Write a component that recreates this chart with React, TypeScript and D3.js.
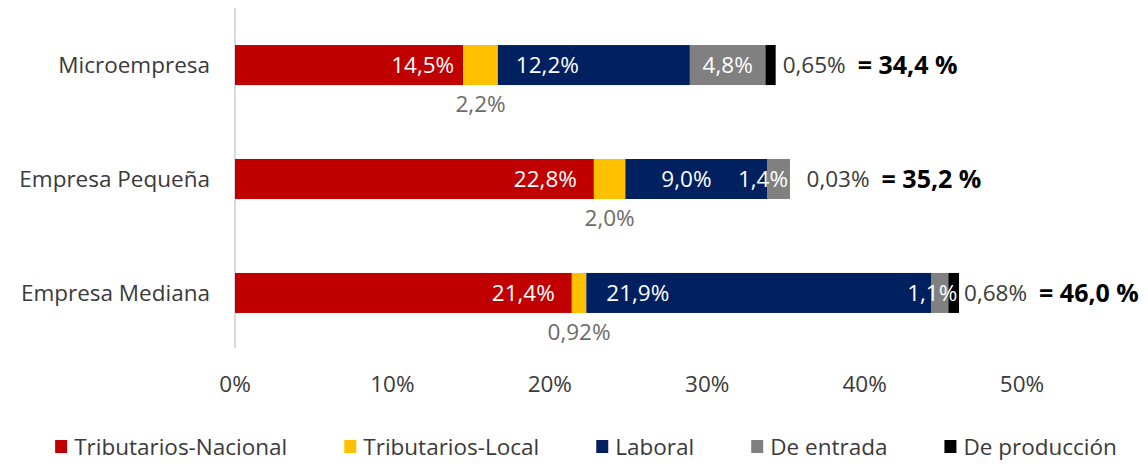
import React, { useRef, useEffect } from "react";
import * as d3 from "d3";

const categories = ["Microempresa", "Empresa Pequeña", "Empresa Mediana"];
const seriesNames = ["Tributarios-Nacional", "Tributarios-Local", "Laboral", "De entrada", "De producción"];
const seriesColors = ["#C00000", "#FFC000", "#002060", "#808080", "#000000"];

const tribNacional = [14.5, 22.8, 21.4];
const tribLocal = [2.2, 2.0, 0.92];
const laboral = [12.2, 9.0, 21.9];
const deEntrada = [4.8, 1.4, 1.1];
const deProduccion = [0.65, 0.03, 0.68];
const totals = [34.4, 35.2, 46.0];

const xTicks = [0, 10, 20, 30, 40, 50];

const fmt = (v: number) => (v < 1 ? v.toFixed(2) : v.toFixed(1)).replace(".", ",") + "%";

const W = 1148;
const H = 465;
const FONT = "'Open Sans', 'Noto Sans', sans-serif";
const FS = "22.5px";
const TXT = "#3a3a3a";

const App = () => {
  const ref = useRef<SVGSVGElement>(null);

  useEffect(() => {
    const svg = d3.select(ref.current);
    svg.selectAll("*").remove();

    const series = [tribNacional, tribLocal, laboral, deEntrada, deProduccion];

    const x = d3.scaleLinear().domain([0, 50]).range([235, 1022]);
    const y = d3
      .scaleBand<string>()
      .domain(categories)
      .range([8, 350])
      .paddingInner(0.649)
      .paddingOuter(0.325);

    // tweaks for label placement, as in the original
    const redPad = [9, 17, 17];
    const bluePad = [18, 36, 20];
    const blackPad = [7, 17, 5];

    // axis line
    svg
      .append("line")
      .attr("x1", x(0))
      .attr("x2", x(0))
      .attr("y1", 8)
      .attr("y2", 348)
      .attr("stroke", "#d9d9d9")
      .attr("stroke-width", 2);

    // category labels
    svg
      .append("g")
      .selectAll("text")
      .data(categories)
      .join("text")
      .attr("x", 210)
      .attr("y", (d) => y(d)! + y.bandwidth() / 2)
      .attr("dy", "0.35em")
      .attr("text-anchor", "end")
      .style("font-family", FONT)
      .style("font-size", FS)
      .style("fill", TXT)
      .text((d) => d);

    // bars
    categories.forEach((cat, i) => {
      let acc = 0;
      const by = y(cat)!;
      const bh = y.bandwidth();
      const cy = by + bh / 2;
      const segs = series.map((s, k) => {
        const start = acc;
        acc += s[i];
        return { k, start, end: acc, v: s[i] };
      });

      svg
        .append("g")
        .selectAll("rect")
        .data(segs)
        .join("rect")
        .attr("x", (d) => x(d.start))
        .attr("y", by)
        .attr("width", (d) => x(d.end) - x(d.start))
        .attr("height", bh)
        .attr("fill", (d) => seriesColors[d.k]);

      const lab = (tx: number, ty: number, anchor: string, color: string, txt: string, bold = false) =>
        svg
          .append("text")
          .attr("x", tx)
          .attr("y", ty)
          .attr("dy", "0.35em")
          .attr("text-anchor", anchor)
          .style("font-family", FONT)
          .style("font-size", bold ? "25px" : FS)
          .style("font-weight", bold ? 700 : 400)
          .style("fill", color)
          .text(txt);

      const [red, yel, blu, gry, blk] = segs;
      lab(x(red.end) - redPad[i], cy, "end", "#fff", fmt(red.v));
      lab((x(yel.start) + x(yel.end)) / 2, by + bh + 19, "middle", "#6b6b6b", fmt(yel.v));
      lab(x(blu.start) + bluePad[i], cy, "start", "#fff", fmt(blu.v));
      if (i === 0) lab((x(gry.start) + x(gry.end)) / 2, cy, "middle", "#fff", fmt(gry.v));
      else lab(x(gry.end) + (i === 1 ? -1 : 9), cy, "end", "#fff", fmt(gry.v));
      const bx = x(blk.end) + blackPad[i];
      const bt = lab(bx, cy, "start", TXT, fmt(blk.v));
      const bw = (bt.node() as SVGTextElement).getComputedTextLength();
      lab(bx + bw + 12, cy, "start", "#000", "= " + totals[i].toFixed(1).replace(".", ",") + " %", true);
    });

    // x tick labels
    svg
      .append("g")
      .selectAll("text")
      .data(xTicks)
      .join("text")
      .attr("x", (d) => x(d))
      .attr("y", 384)
      .attr("dy", "0.35em")
      .attr("text-anchor", "middle")
      .style("font-family", FONT)
      .style("font-size", FS)
      .style("fill", TXT)
      .text((d) => d + "%");

    // legend
    const lg = svg.append("g");
    const items = seriesNames.map((name, k) => {
      const g = lg.append("g");
      g.append("rect").attr("x", 0).attr("y", -7).attr("width", 12).attr("height", 13).attr("fill", seriesColors[k]);
      const t = g
        .append("text")
        .attr("x", 19)
        .attr("y", 0)
        .attr("dy", "0.35em")
        .style("font-family", FONT)
        .style("font-size", FS)
        .style("fill", TXT)
        .text(name);
      return { g, w: 19 + (t.node() as SVGTextElement).getComputedTextLength() };
    });
    const gap = 57;
    const totalW = d3.sum(items, (d) => d.w) + gap * (items.length - 1);
    let lx = (W - totalW) / 2 + 12;
    items.forEach((it) => {
      it.g.attr("transform", `translate(${lx},447)`);
      lx += it.w + gap;
    });
  }, []);

  return (
    <svg
      ref={ref}
      width={W}
      height={H}
      style={{ position: "absolute", left: 0, top: 0, background: "#fff" }}
    ></svg>
  );
};

export default App;
